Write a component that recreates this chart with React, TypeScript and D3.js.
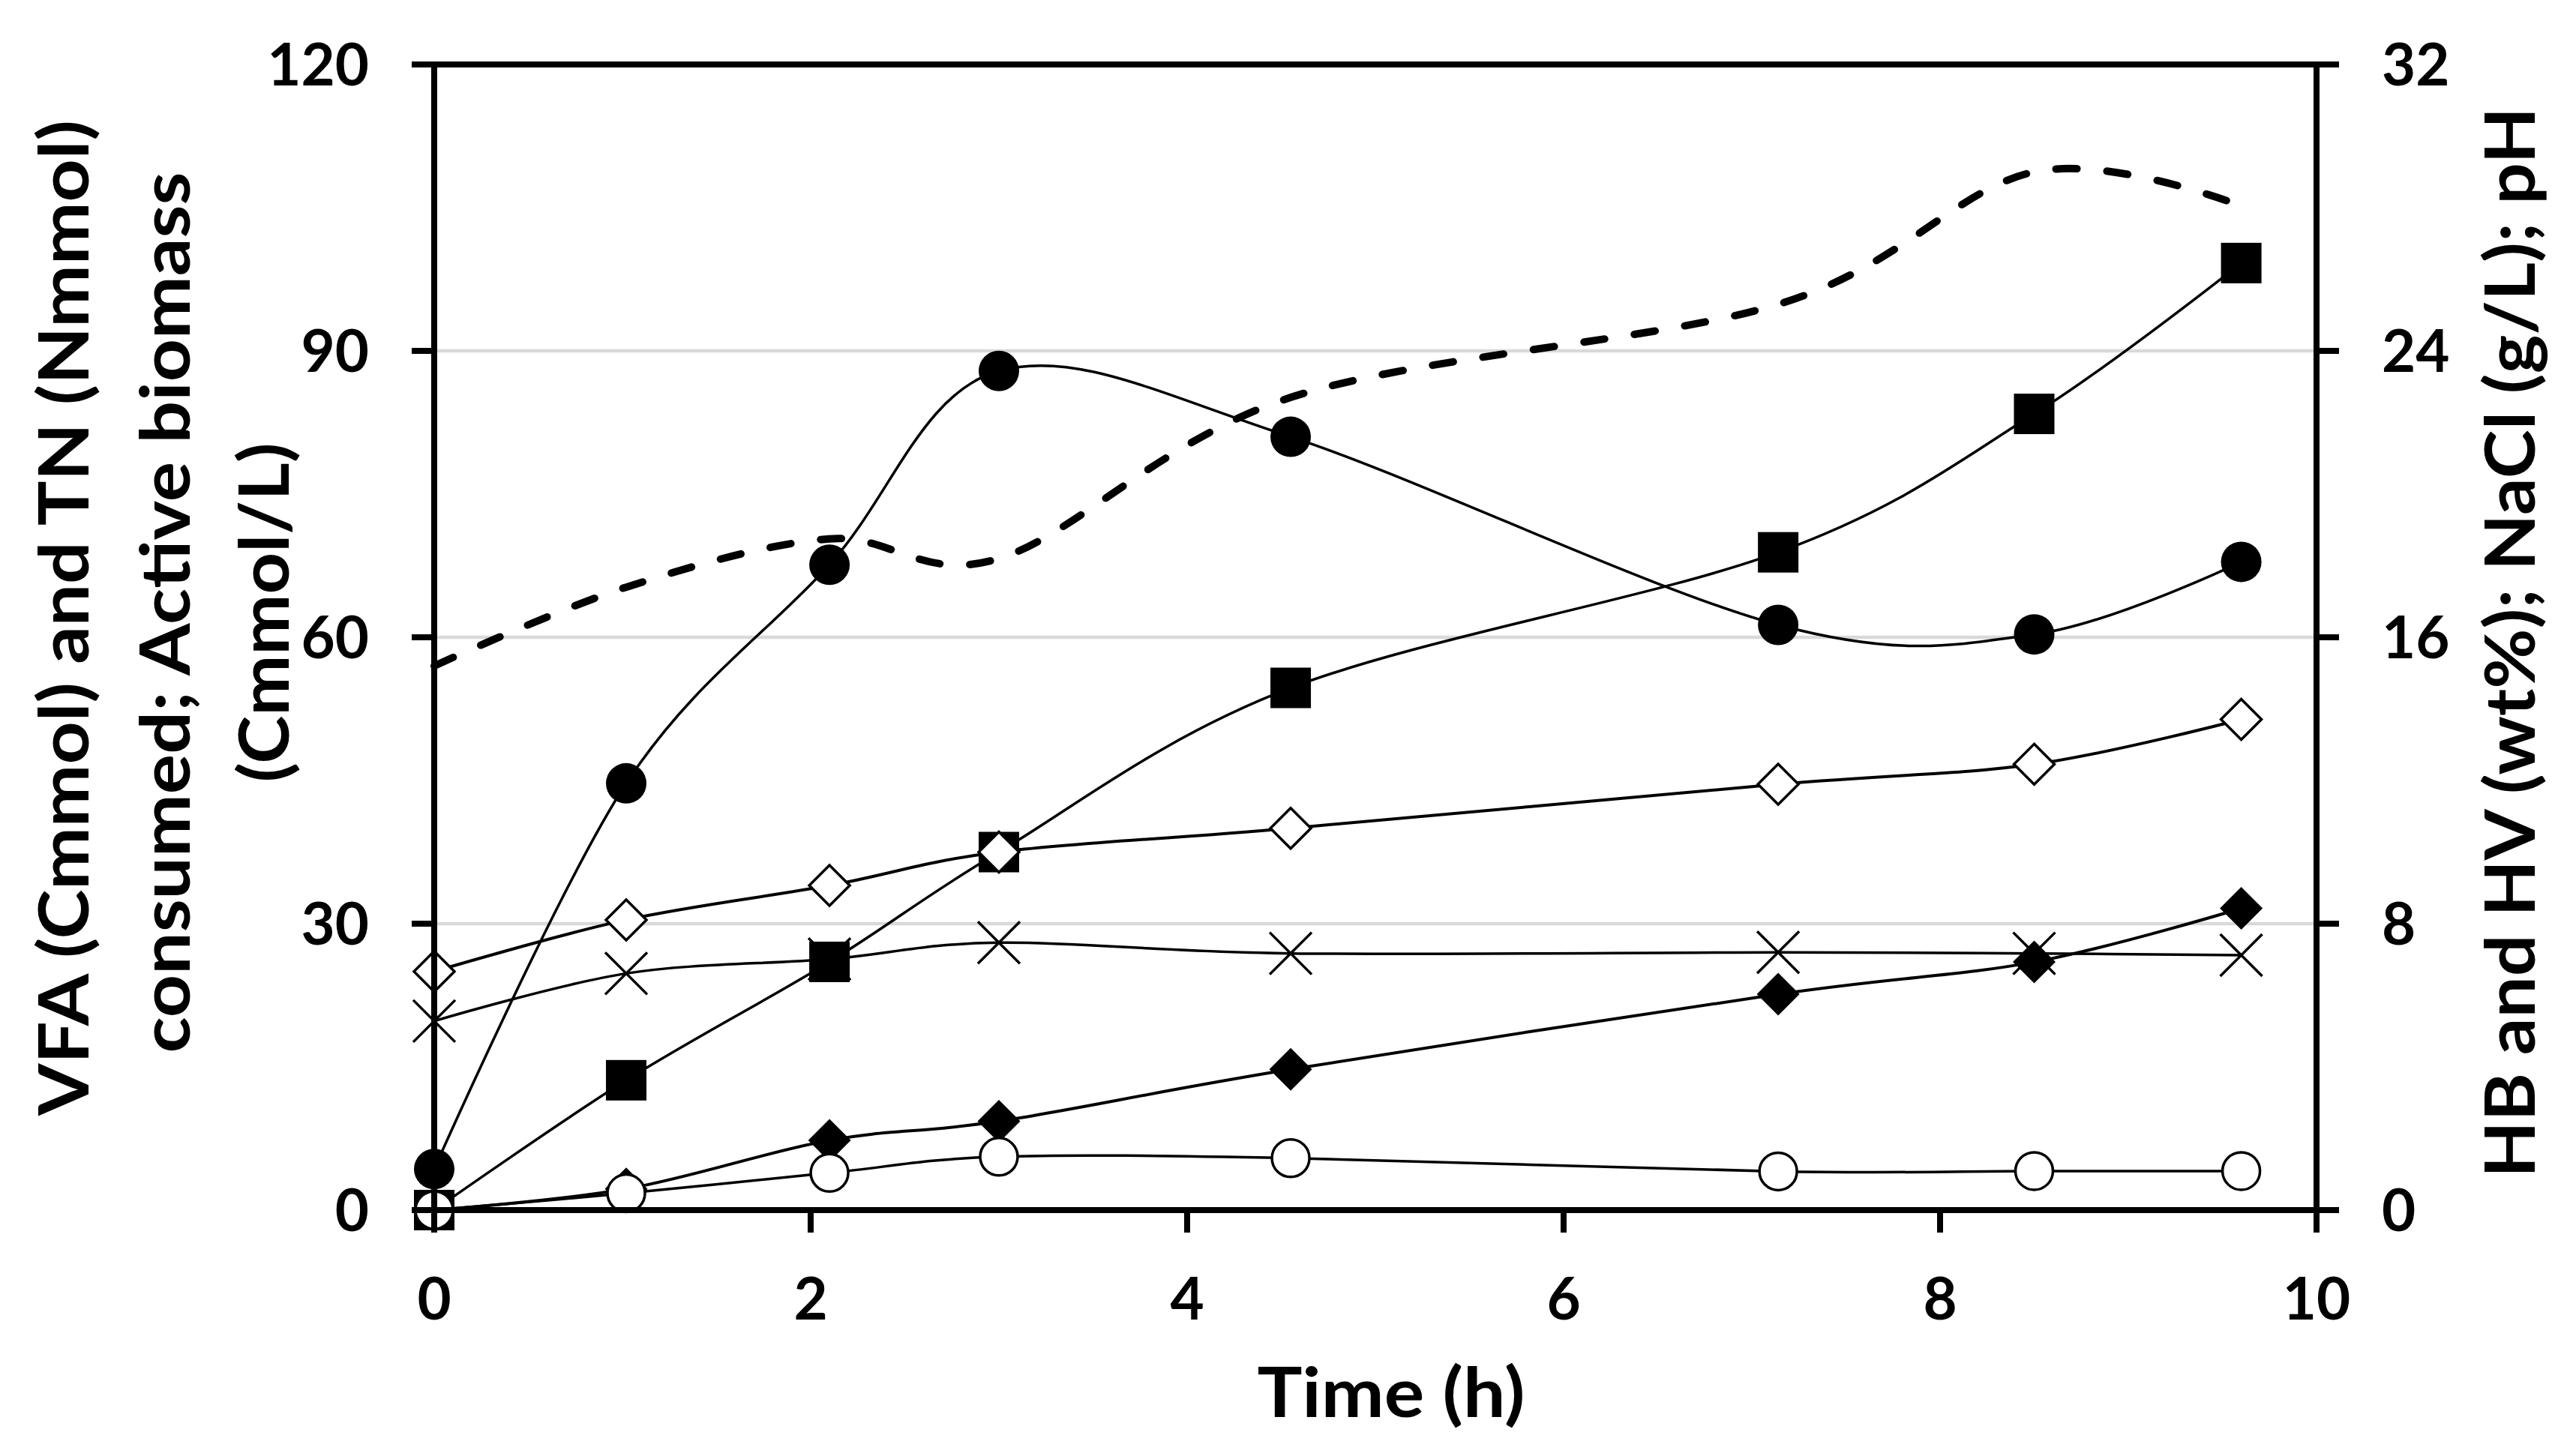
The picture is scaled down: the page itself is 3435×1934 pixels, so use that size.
import * as d3 from 'd3';

// sampling times (h)
const times = [0, 1.02, 2.1, 3.0, 4.55, 7.14, 8.5, 9.6];

// left axis series (Cmmol / Nmmol / Cmmol/L)
const filledCircles = [4.3, 44.7, 67.6, 87.9, 81.0, 61.3, 60.3, 67.9];
const filledSquares = [0, 13.6, 26.0, 37.5, 54.7, 68.9, 83.4, 99.2];
const openDiamonds = [25.0, 30.4, 34.0, 37.5, 40.0, 44.6, 46.7, 51.4];

// right axis series (wt% / g/L / pH)
const crosses = [5.28, 6.61, 7.01, 7.47, 7.17, 7.2, 7.17, 7.12];
const filledDiamonds = [0, 0.59, 1.95, 2.48, 3.93, 6.03, 6.93, 8.43];
const openCircles = [0, 0.47, 1.04, 1.49, 1.45, 1.08, 1.09, 1.09];
const dashedValues = [15.2, 17.4, 18.75, 18.2, 22.7, 25.3, 29.0, 28.05];

const xTicks = [0, 2, 4, 6, 8, 10];
const leftTicks = [0, 30, 60, 90, 120];
const rightTicks = [0, 8, 16, 24, 32];

const W = 3435;
const H = 1934;
const FONT = "Lato, 'Open Sans', 'Noto Sans', sans-serif";

export default function App() {
  const x = d3.scaleLinear().domain([0, 10]).range([579, 3089]);
  const yL = d3.scaleLinear().domain([0, 120]).range([1614, 86]);
  const yR = d3.scaleLinear().domain([0, 32]).range([1614, 86]);

  const curve = d3.curveCatmullRom.alpha(0);
  const lineL = d3.line<number>().x((_, i) => x(times[i])).y((d) => yL(d)).curve(curve);
  const lineR = d3.line<number>().x((_, i) => x(times[i])).y((d) => yR(d)).curve(curve);

  const left = x(0);
  const right = x(10);
  const bottom = yL(0);
  const top = yL(120);
  const tick = 30;

  const diamond = (r: number) => `M0,${-r}L${r},0L0,${r}L${-r},0Z`;
  const cross = (r: number) => `M${-r},${-r}L${r},${r}M${-r},${r}L${r},${-r}`;

  return (
    <svg
      width={W}
      height={H}
      style={{ position: 'absolute', left: 0, top: 0, background: '#fff' }}
      fontFamily={FONT}
      fontWeight="bold"
    >
      <rect width={W} height={H} fill="#fff" />

      {/* gridlines */}
      {leftTicks
        .filter((t) => t > 0 && t < 120)
        .map((t) => (
          <line key={t} x1={left} x2={right} y1={yL(t)} y2={yL(t)} stroke="#d9d9d9" strokeWidth={4.5} />
        ))}

      {/* series lines */}
      <path d={lineR(dashedValues) || ''} fill="none" stroke="#000" strokeWidth={10}
        strokeDasharray="28 40" strokeLinecap="round" />
      <path d={lineL(filledCircles) || ''} fill="none" stroke="#000" strokeWidth={3.5} />
      <path d={lineL(filledSquares) || ''} fill="none" stroke="#000" strokeWidth={3.5} />
      <path d={lineL(openDiamonds) || ''} fill="none" stroke="#000" strokeWidth={4} />
      <path d={lineR(crosses) || ''} fill="none" stroke="#000" strokeWidth={3.5} />
      <path d={lineR(filledDiamonds) || ''} fill="none" stroke="#000" strokeWidth={4} />
      <path d={lineR(openCircles) || ''} fill="none" stroke="#000" strokeWidth={3.5} />

      {/* markers */}
      {crosses.map((v, i) => (
        <path key={'x' + i} d={cross(28)} transform={`translate(${x(times[i])},${yR(v)})`}
          stroke="#000" strokeWidth={3.5} fill="none" />
      ))}
      {filledCircles.map((v, i) => (
        <circle key={'fc' + i} cx={x(times[i])} cy={yL(v)} r={27} fill="#000" />
      ))}
      {filledSquares.map((v, i) => (
        <rect key={'fs' + i} x={x(times[i]) - 27} y={yL(v) - 27} width={54} height={54} fill="#000" />
      ))}
      {openDiamonds.map((v, i) => (
        <path key={'od' + i} d={diamond(27)} transform={`translate(${x(times[i])},${yL(v)})`}
          fill="#fff" stroke="#000" strokeWidth={3.5} />
      ))}
      {filledDiamonds.map((v, i) => (
        <path key={'fd' + i} d={diamond(28.5)} transform={`translate(${x(times[i])},${yR(v)})`}
          fill="#000" />
      ))}
      {openCircles.map((v, i) => (
        <circle key={'oc' + i} cx={x(times[i])} cy={yR(v)} r={25} fill="#fff" stroke="#000" strokeWidth={3.5} />
      ))}

      {/* axes frame */}
      <g stroke="#000" strokeWidth={8} strokeLinecap="butt">
        <line x1={left - tick} x2={right + tick} y1={top} y2={top} />
        <line x1={left - tick} x2={right + tick} y1={bottom} y2={bottom} />
        <line x1={left} x2={left} y1={top - 4} y2={bottom + tick} />
        <line x1={right} x2={right} y1={top - 4} y2={bottom + tick} />
        {leftTicks.map((t) => (
          <line key={'lt' + t} x1={left - tick} x2={left} y1={yL(t)} y2={yL(t)} />
        ))}
        {rightTicks.map((t) => (
          <line key={'rt' + t} x1={right} x2={right + tick} y1={yR(t)} y2={yR(t)} />
        ))}
        {xTicks.map((t) => (
          <line key={'xt' + t} x1={x(t)} x2={x(t)} y1={bottom} y2={bottom + tick} />
        ))}
      </g>

      {/* tick labels */}
      <g fontSize={78} fill="#000">
        {leftTicks.map((t) => (
          <text key={'ll' + t} x={492} y={yL(t)} dy="0.36em" textAnchor="end">{t}</text>
        ))}
        {rightTicks.map((t) => (
          <text key={'rl' + t} x={3176} y={yR(t)} dy="0.36em" textAnchor="start">{t}</text>
        ))}
        {xTicks.map((t) => (
          <text key={'xl' + t} x={x(t)} y={1760} textAnchor="middle">{t}</text>
        ))}
      </g>

      {/* axis titles */}
      <g fontSize={92} fill="#000" textAnchor="middle">
        <text transform="translate(118,824) rotate(-90)" textLength={1328} lengthAdjust="spacingAndGlyphs">
          VFA (Cmmol) and TN (Nmmol)
        </text>
        <text transform="translate(253,817) rotate(-90)" textLength={1175} lengthAdjust="spacingAndGlyphs">
          consumed; Active biomass
        </text>
        <text transform="translate(385,817) rotate(-90)" textLength={453} lengthAdjust="spacingAndGlyphs">
          (Cmmol/L)
        </text>
        <text transform="translate(3380,857) rotate(-90)" textLength={1428} lengthAdjust="spacingAndGlyphs">
          HB and HV (wt%); NaCl (g/L); pH
        </text>
        <text x={1855} y={1890} textLength={357} lengthAdjust="spacingAndGlyphs">
          Time (h)
        </text>
      </g>
    </svg>
  );
}
